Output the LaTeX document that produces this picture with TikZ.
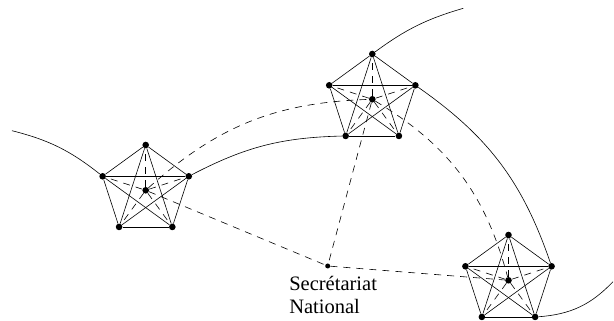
\documentclass[tikz,border=0pt]{standalone}
\usepackage{fontspec}
\setmainfont{Liberation Serif}
\usetikzlibrary{calc}

\begin{document}
\begin{tikzpicture}[x=1pt, y=1pt, line width=0.6pt,
    dot/.style={circle, fill, inner sep=0pt, minimum size=6.6pt},
    smalldot/.style={circle, fill, inner sep=0pt, minimum size=5pt},
    link/.style={dash pattern=on 7pt off 6pt}]
    \useasboundingbox (0,0) rectangle (614,321);

    % centres of the three cells
    \coordinate (c1) at (145.7,130.7);
    \coordinate (c2) at (372.3,221.7);
    \coordinate (c3) at (508.5,40.7);

    \foreach \p in {1,2,3}{
        \node[dot] (n\p0) at (c\p) {};
        \foreach \i in {1,...,5}
            \node[dot] (n\p\i) at ($(c\p)+({18+72*\i}:45.3)$) {};
    }

    % complete graph and dashed spokes in each cell
    \foreach \p in {1,2,3}{
        \foreach \a/\b in {1/2,1/3,1/4,1/5,2/3,2/4,2/5,3/4,3/5,4/5}
            \draw (n\p\a) -- (n\p\b);
        \foreach \i in {1,...,5}
            \draw[link] (n\p0) -- (n\p\i);
    }

    \node[smalldot] (sn) at (327.7,55) {};
    \node[anchor=north west, align=left, inner sep=0pt,
          font=\fontsize{20.5}{22.5}\selectfont] (snlabel) at (289,45) {Secrétariat\\National};

    \coordinate (westend) at (12,190.3);
    \coordinate (northend) at (463.3,312.7);
    \coordinate (eastend) at (613,39.3);

    \draw (westend) to[bend left=12] (n12);
    \draw (n15) to[bend left=13] (n23);
    \draw (n21) to[bend left=10] (northend);
    \draw (n25) to[bend left=18] (n35);
    \draw (n34) to[bend right=21] (eastend);

    \draw[link] (n10) to[bend left=20] (n20);
    \draw[link] (n10) -- (sn);
    \draw[link] (n20) -- (sn);
    \draw[link] (n20) to[bend left=22] (n30);
    \draw[link] (sn) -- (n30);
\end{tikzpicture}
\end{document}
